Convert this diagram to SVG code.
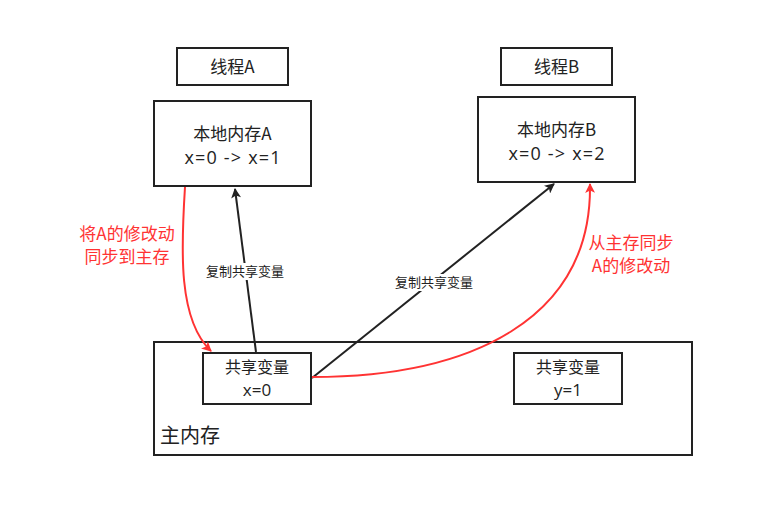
<svg xmlns="http://www.w3.org/2000/svg" width="774" height="517" viewBox="0 0 774 517">
<defs>
<style>
.box{fill:#fff;stroke:#222;stroke-width:2}
.t{font-family:"Noto Sans CJK SC","Noto Sans",sans-serif;font-size:17px;fill:#222;text-anchor:middle}
.lat{font-family:"Open Sans","Noto Sans",sans-serif;font-size:18px;fill:#222;text-anchor:middle}
.s{font-family:"Noto Sans CJK SC","Noto Sans",sans-serif;font-size:16px;fill:#222;text-anchor:middle}
.slat{font-family:"Open Sans","Noto Sans",sans-serif;font-size:17px;fill:#222;text-anchor:middle}
.lbl{font-family:"Noto Sans CJK SC","Noto Sans",sans-serif;font-size:13px;fill:#222;text-anchor:middle}
.rt{font-family:"Noto Sans CJK SC","Noto Sans",sans-serif;font-size:17px;fill:#ff3333;text-anchor:middle}
.blk{fill:none;stroke:#222;stroke-width:2}
.red{fill:none;stroke:#ff3333;stroke-width:2}
</style>
<marker id="ab" viewBox="0 0 10 10" refX="9" refY="5" markerWidth="11" markerHeight="10" orient="auto" markerUnits="userSpaceOnUse">
<path d="M0,0 L10,5 L0,10 L2.5,5 Z" fill="#222"/>
</marker>
<marker id="ar" viewBox="0 0 10 10" refX="9" refY="5" markerWidth="11" markerHeight="10" orient="auto" markerUnits="userSpaceOnUse">
<path d="M0,0 L10,5 L0,10 L2.5,5 Z" fill="#ff3333"/>
</marker>
</defs>
<rect width="774" height="517" fill="#fff"/>
<g id="main-memory">
<rect class="box" x="154" y="342" width="538" height="113"/>
<text x="160" y="443" font-family="'Noto Sans CJK SC',sans-serif" font-size="20" fill="#222">主内存</text>
</g>
<g id="thread-a">
<rect class="box" x="177" y="48" width="111" height="37"/>
<text class="t" x="232.5" y="73">线程A</text>
</g>
<g id="local-a">
<rect class="box" x="154" y="101" width="157" height="85"/>
<text class="t" x="232.5" y="140">本地内存A</text>
<text class="lat" x="232.5" y="164" textLength="96" lengthAdjust="spacing">x=0 -&gt; x=1</text>
</g>
<g id="thread-b">
<rect class="box" x="501" y="48" width="111" height="37"/>
<text class="t" x="556.5" y="73">线程B</text>
</g>
<g id="local-b">
<rect class="box" x="478" y="97" width="157" height="85"/>
<text class="t" x="556.5" y="136">本地内存B</text>
<text class="lat" x="556.5" y="160" textLength="96" lengthAdjust="spacing">x=0 -&gt; x=2</text>
</g>
<g id="shared-x">
<rect class="box" x="203" y="353" width="108" height="51"/>
<text class="s" x="257" y="373">共享变量</text>
<text class="slat" x="257" y="396">x=0</text>
</g>
<g id="shared-y">
<rect class="box" x="514" y="353" width="108" height="51"/>
<text class="s" x="568" y="373">共享变量</text>
<text class="slat" x="568" y="396">y=1</text>
</g>
<g id="connectors">
<path class="blk" d="M256,352 L235,189" marker-end="url(#ab)"/>
<path class="blk" d="M312,378 L554,184" marker-end="url(#ab)"/>
<path class="red" d="M185,187 C181,250 178,320 211,351" marker-end="url(#ar)"/>
<path class="red" d="M312,377 C470,377 592,320 590,184" marker-end="url(#ar)"/>
<rect x="205" y="263" width="80" height="17" fill="#fff"/>
<text class="lbl" x="245" y="276">复制共享变量</text>
<rect x="394" y="274" width="80" height="17" fill="#fff"/>
<text class="lbl" x="434" y="287">复制共享变量</text>
<text class="rt" x="127" y="240">将A的修改动</text>
<text class="rt" x="127" y="263">同步到主存</text>
<text class="rt" x="631" y="249">从主存同步</text>
<text class="rt" x="631" y="272">A的修改动</text>
</g>
</svg>
